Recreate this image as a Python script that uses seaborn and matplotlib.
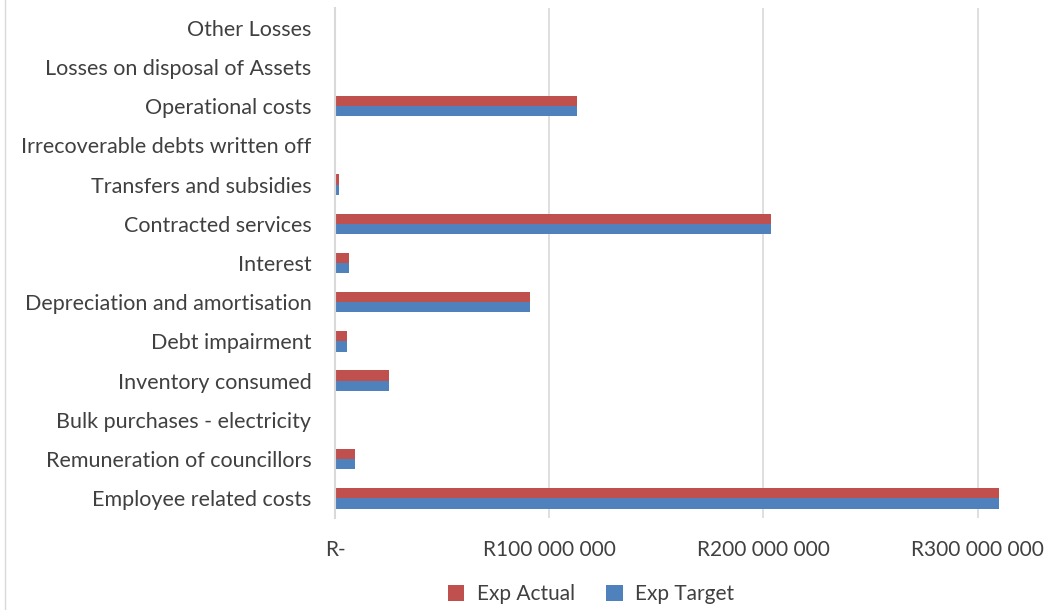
import matplotlib
matplotlib.use("Agg")
import matplotlib.pyplot as plt
from matplotlib.lines import Line2D
import seaborn as sns
import pandas as pd

categories = [
    "Other Losses",
    "Losses on disposal of Assets",
    "Operational costs",
    "Irrecoverable debts written off",
    "Transfers and subsidies",
    "Contracted services",
    "Interest",
    "Depreciation and amortisation",
    "Debt impairment",
    "Inventory consumed",
    "Bulk purchases - electricity",
    "Remuneration of councillors",
    "Employee related costs",
]
exp_actual = [0, 0, 112.9e6, 0, 2.0e6, 203.3e6, 6.7e6, 91.1e6, 5.7e6, 25.3e6, 0, 9.2e6, 310.0e6]
exp_target = [0, 0, 112.9e6, 0, 2.0e6, 203.3e6, 6.7e6, 91.1e6, 5.7e6, 25.3e6, 0, 9.2e6, 310.0e6]
series_names = ["Exp Actual", "Exp Target"]
tick_values = [0, 100e6, 200e6, 300e6]
tick_labels = ["R-", "R100 000 000", "R200 000 000", "R300 000 000"]

df = pd.DataFrame({
    "Category": categories * 2,
    "Value": exp_actual + exp_target,
    "Series": [series_names[0]] * len(categories) + [series_names[1]] * len(categories),
})

sns.set_theme(style="white")
plt.rcParams["font.family"] = ["Lato", "DejaVu Sans"]

fig = plt.figure(figsize=(10.51, 6.10), dpi=100)
ax = fig.add_axes([335 / 1051, 1 - 518 / 610, (1042 - 335) / 1051, (518 - 8) / 610])

sns.barplot(
    data=df, y="Category", x="Value", hue="Series", order=categories,
    hue_order=series_names, palette=["#C0504D", "#4F81BD"], orient="h",
    width=0.52, saturation=1, linewidth=0, ax=ax, legend=True,
)

ax.set_xlim(0, 330e6)
ax.set_ylim(len(categories) - 0.5, -0.5)
ax.set_xticks(tick_values)
ax.set_xticklabels(tick_labels, fontsize=15, color="#404040")
ax.tick_params(axis="y", labelsize=15.5, labelcolor="#404040", length=0, pad=17)
ax.tick_params(axis="x", length=0, pad=16)
ax.set_xlabel("")
ax.set_ylabel("")
ax.xaxis.grid(True, color="#D9D9D9", linewidth=1.2)
ax.set_axisbelow(True)
for s in ["top", "right", "bottom"]:
    ax.spines[s].set_visible(False)
ax.spines["left"].set_color("#D9D9D9")
ax.spines["left"].set_linewidth(1.5)

handles, labels = ax.get_legend_handles_labels()
ax.legend_.remove()
fig.legend(handles, labels, loc="center", bbox_to_anchor=(591 / 1051, 1 - 594 / 610),
           ncol=2, frameon=False, fontsize=15, handlelength=0.8, handleheight=0.8,
           columnspacing=1.5, handletextpad=0.6, labelcolor="#404040")

fig.add_artist(Line2D([5 / 1051, 5 / 1051], [0, 1], color="#D9D9D9", linewidth=1, transform=fig.transFigure))

fig.savefig("out.png", dpi=100, facecolor="white")
